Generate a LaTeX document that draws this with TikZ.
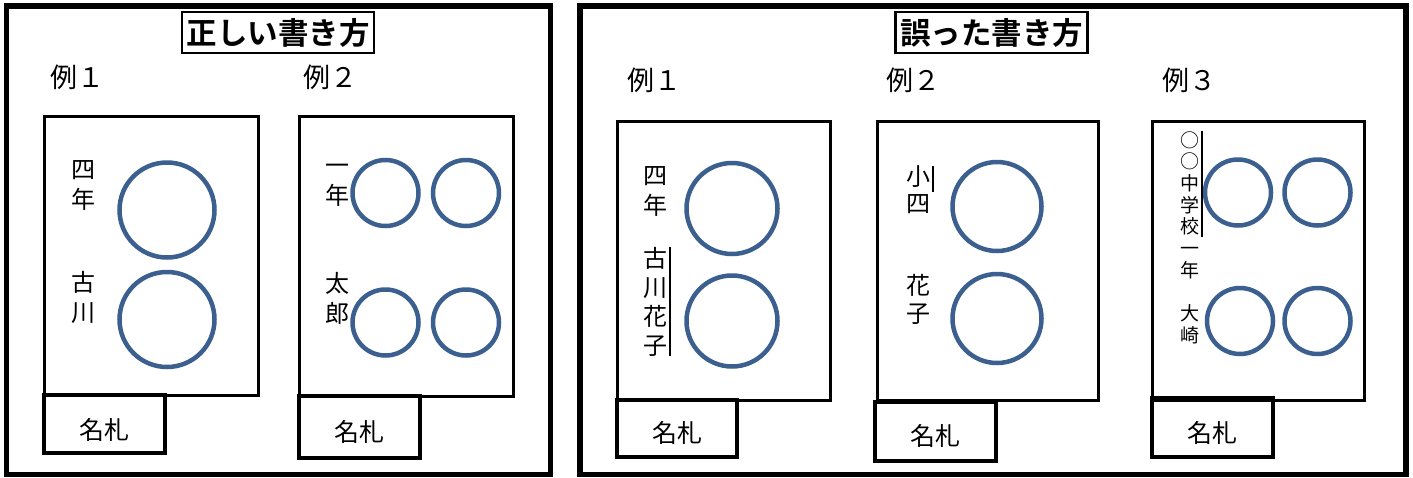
\documentclass[tikz,border=0pt]{standalone}
\usepackage{fontspec}
\setmainfont{Noto Sans CJK JP}[BoldFont={Noto Sans CJK JP Bold}]
\definecolor{maruiro}{HTML}{3B5F8E}
\begin{document}
\begin{tikzpicture}[x=1pt, y=-1pt,
	waku/.style={line width=5.5pt},
	kami/.style={line width=3pt},
	fuda/.style={line width=4.5pt},
	maru/.style={draw=maruiro, line width=4.5pt},
	midashi/.style={draw, line width=2.5pt, inner sep=0pt, minimum width=192pt, minimum height=41pt, font=\bfseries\fontsize{30.5}{31}\selectfont},
	rei/.style={inner sep=0pt, font=\fontsize{27}{28}\selectfont},
	moji/.style={inner sep=0pt, align=center, font=\fontsize{24}{30}\selectfont},
	komoji/.style={inner sep=0pt, align=center, font=\fontsize{19}{21.7}\selectfont},
	fudamoji/.style={inner sep=0pt, font=\fontsize{25}{26}\selectfont}]
	\useasboundingbox (0,0) rectangle (1413,477);
	% 外枠
	\draw[waku] (6.5,6) rectangle (550.5,474.5);
	\draw[waku] (580,6) rectangle (1406,474.5);
	\node[midashi] (tadashii) at (278,32.5) {正しい書き方};
	\node[midashi] (ayamari) at (991.5,32.5) {誤った書き方};
	\node[rei] (reiA) at (77,77) {例１};
	\node[rei] (reiB) at (330,77) {例２};
	\node[rei] (reiC) at (654,80) {例１};
	\node[rei] (reiD) at (913,80) {例２};
	\node[rei] (reiE) at (1189,80) {例３};
	% 正しい書き方 例1
	\draw[kami] (44,116) rectangle (258,395);
	\draw[fuda] (44,395) rectangle (165,453);
	\node[fudamoji] (fudaA) at (104.5,430) {名札};
	\draw[maru] (167,210) circle (47.5);
	\draw[maru] (167,319.5) circle (47.5);
	\node[moji] (gakunenA) at (83,185) {四\\年};
	\node[moji] (namaeA) at (83,297.5) {古\\川};
	% 正しい書き方 例2
	\draw[kami] (299,116) rectangle (513,396);
	\draw[fuda] (299,396) rectangle (420,458);
	\node[fudamoji] (fudaB) at (359.5,432) {名札};
	\foreach \px in {385.5,466} \foreach \py in {193,322.5}
		\draw[maru] (\px,\py) circle (33);
	\node[moji] (gakunenB) at (337,185) {一\\年};
	\node[moji] (namaeB) at (337,298) {太\\郎};
	% 誤った書き方 例1
	\draw[kami] (617,121) rectangle (830,400);
	\draw[fuda] (617,400) rectangle (737,457);
	\node[fudamoji] (fudaC) at (677,433) {名札};
	\draw[maru] (732,208.5) circle (45.5);
	\draw[maru] (732,321) circle (45.5);
	\node[moji] (gakunenC) at (655,191) {四\\年};
	\node[moji, font=\fontsize{24}{29}\selectfont] (namaeC) at (655,301.5) {古\\川\\花\\子};
	\draw[line width=2pt] ([xshift=3pt]namaeC.north east) -- ([xshift=3pt]namaeC.south east);
	% 誤った書き方 例2
	\draw[kami] (877,121) rectangle (1098,400);
	\draw[fuda] (875,402) rectangle (996,461);
	\node[fudamoji] (fudaD) at (935.5,436) {名札};
	\draw[maru] (997,206.5) circle (44.5);
	\draw[maru] (997,318.5) circle (44.5);
	\node[moji, font=\fontsize{24}{27}\selectfont] (gakunenD) at (918,190) {小\\四};
	\node[moji, font=\fontsize{24}{28}\selectfont] (namaeD) at (918,299) {花\\子};
	\coordinate (sen) at ([xshift=3pt]gakunenD.north east);
	\draw[line width=2pt] (sen) -- ++(0,26);
	% 誤った書き方 例3
	\draw[kami] (1152,121) rectangle (1364,400);
	\draw[fuda] (1152,398) rectangle (1273,457);
	\node[fudamoji] (fudaE) at (1212.5,433) {名札};
	\draw[maru] (1238,192.5) circle (33);
	\draw[maru] (1317.5,192.5) circle (33);
	\draw[maru] (1240,321) circle (33);
	\draw[maru] (1317.5,321) circle (33);
	\node[komoji] (gakkouE) at (1189.5,205) {○\\○\\中\\学\\校\\一\\年};
	\node[komoji] (namaeE) at (1189.5,324) {大\\崎};
	\coordinate (senE) at ([xshift=2.5pt]gakkouE.north east);
	\draw[line width=2pt] (senE) -- ++(0,106);
\end{tikzpicture}
\end{document}
